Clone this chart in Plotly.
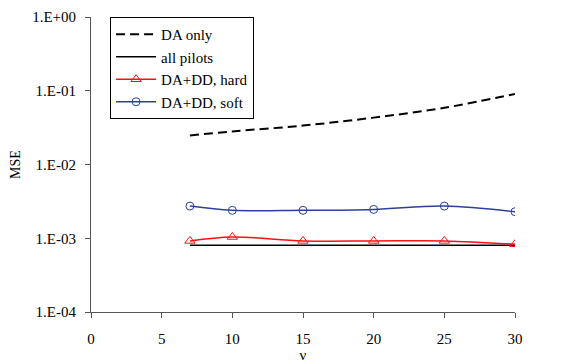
import plotly.graph_objects as go

nu = [7, 10, 15, 20, 25, 30]
da_only = [0.0248, 0.0281, 0.0337, 0.0432, 0.0587, 0.0906]
all_pilots = [8.05e-4, 8.05e-4, 8.05e-4, 8.05e-4, 8.05e-4, 8.05e-4]
dd_hard = [9.2e-4, 1.04e-3, 9.2e-4, 9.2e-4, 9.2e-4, 8.3e-4]
dd_soft = [2.73e-3, 2.39e-3, 2.39e-3, 2.46e-3, 2.73e-3, 2.29e-3]

ytick_vals = [1e-4, 1e-3, 1e-2, 1e-1, 1]
ytick_text = ["1.E-04", "1.E-03", "1.E-02", "1.E-01", "1.E+00"]
xtick_vals = [0, 5, 10, 15, 20, 25, 30]

font = "Liberation Serif, Times New Roman, serif"

fig = go.Figure()
fig.add_trace(go.Scatter(x=nu, y=da_only, mode="lines", name="DA only",
                         line=dict(color="black", width=2, dash="9px,5px", shape="spline")))
fig.add_trace(go.Scatter(x=nu, y=all_pilots, mode="lines", name="all pilots",
                         line=dict(color="black", width=1.5)))
fig.add_trace(go.Scatter(x=nu, y=dd_hard, mode="lines+markers", name="DA+DD, hard",
                         line=dict(color="#ff1010", width=1.5, shape="spline"),
                         marker=dict(symbol="triangle-up-open", size=9, color="#ff1010", line=dict(width=1))))
fig.add_trace(go.Scatter(x=nu, y=dd_soft, mode="lines+markers", name="DA+DD, soft",
                         line=dict(color="#2e3f9c", width=1.5, shape="spline"),
                         marker=dict(symbol="circle-open", size=8, color="#2e3f9c", line=dict(width=1))))

fig.update_layout(
    width=576, height=356,
    margin=dict(l=83, r=69, t=9, b=52, autoexpand=False),
    paper_bgcolor="white", plot_bgcolor="white",
    font=dict(family=font, size=15, color="black"),
    showlegend=True,
    legend=dict(x=0.045, y=1.0, xanchor="left", yanchor="top",
                bordercolor="black", borderwidth=1, bgcolor="white",
                font=dict(family=font, size=15), tracegroupgap=0,
                itemwidth=40),
)
fig.update_xaxes(range=[0, 30], tickvals=xtick_vals, showgrid=False, zeroline=False,
                 showline=True, linecolor="#555555", linewidth=1, automargin=False,
                 ticks="outside", ticklen=5, tickcolor="#555555", ticklabelstandoff=8,
                 ticklabeloverflow="allow",
                 title=dict(text="ν", standoff=1, font=dict(family=font, size=15)))
fig.update_yaxes(type="log", range=[-4, 0], tickvals=ytick_vals, ticktext=ytick_text,
                 showgrid=False, zeroline=False, automargin=False,
                 showline=True, linecolor="#555555", linewidth=1,
                 ticks="outside", ticklen=5, tickcolor="#555555", ticklabelstandoff=6,
                 ticklabeloverflow="allow",
                 title=dict(text="MSE", standoff=14, font=dict(family=font, size=14)))

fig.write_html("out.html")
